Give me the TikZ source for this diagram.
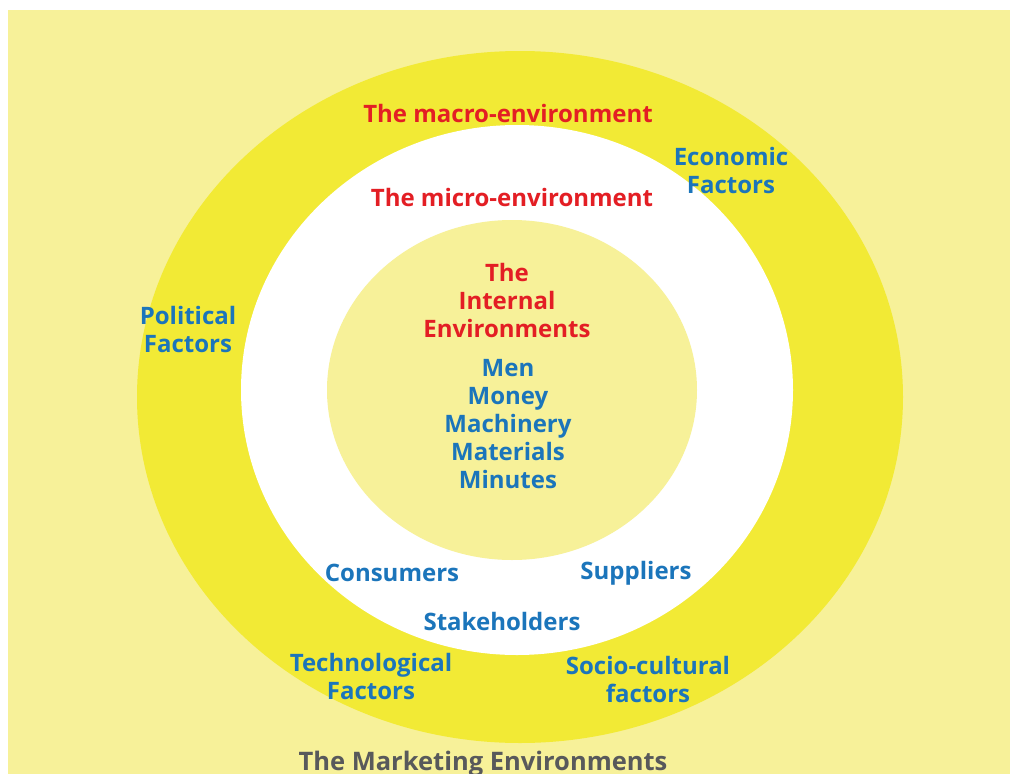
\documentclass[tikz,border=0pt]{standalone}
\usepackage{fontspec}
\setmainfont{Open Sans}
\definecolor{bgyellow}{HTML}{F7F199}
\definecolor{ringyellow}{HTML}{F2EA35}
\definecolor{tred}{HTML}{E31E24}
\definecolor{tblue}{HTML}{1B75BB}
\definecolor{tgray}{HTML}{58595B}
\tikzset{
  lbl/.style={font=\fontsize{24}{28}\selectfont\bfseries, align=center, inner sep=0pt},
  redlbl/.style={lbl, text=tred},
  bluelbl/.style={lbl, text=tblue},
  titlelbl/.style={lbl, text=tgray, font=\fontsize{25.5}{28}\selectfont\bfseries}
}
\begin{document}
\begin{tikzpicture}[x=1pt,y=-1pt]
\useasboundingbox (0,0) rectangle (1010,774);
\fill[white] (0,0) rectangle (1010,774);
\fill[bgyellow] (8,10) rectangle (1010,774);
\fill[ringyellow] (520,397) ellipse [x radius=383pt, y radius=346pt];
\fill[white] (517,390) ellipse [x radius=276pt, y radius=265pt];
\fill[bgyellow] (512,390) ellipse [x radius=185pt, y radius=170pt];
\node[redlbl] (macro) at (508,113) {The macro-environment};
\node[redlbl] (micro) at (512,197) {The micro-environment};
\node[bluelbl] (econ) at (731,170) {Economic\\Factors};
\node[bluelbl] (pol) at (188,329) {Political\\Factors};
\node[redlbl] (internal) at (507,300) {The\\Internal\\Environments};
\node[bluelbl] (fivem) at (508,424) {Men\\Money\\Machinery\\Materials\\Minutes};
\node[bluelbl] (cons) at (392,573) {Consumers};
\node[bluelbl] (supp) at (636,573) {Suppliers};
\node[bluelbl] (stake) at (502,621) {Stakeholders};
\node[bluelbl] (tech) at (371,676) {Technological\\Factors};
\node[bluelbl] (socio) at (648,679) {Socio-cultural\\factors};
\node[titlelbl] (title) at (483,764) {The Marketing Environments};
\end{tikzpicture}
\end{document}
